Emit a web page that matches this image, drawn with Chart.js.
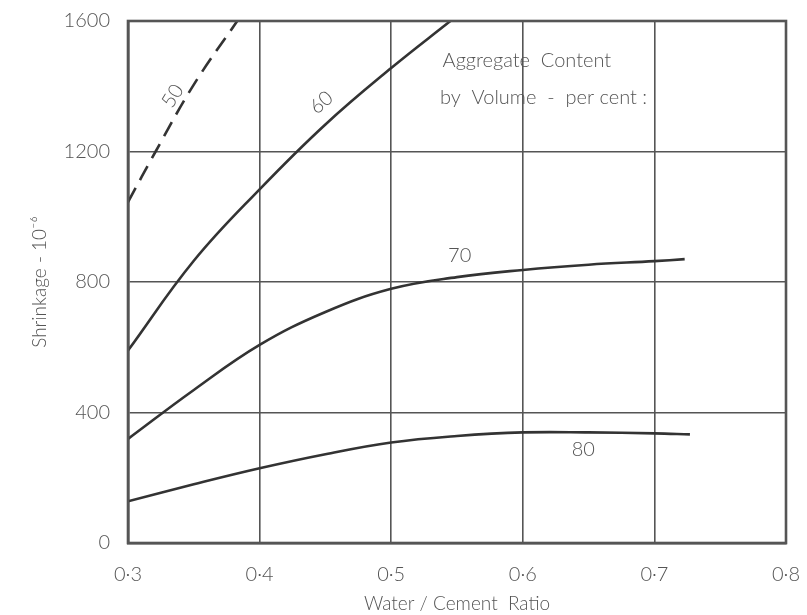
<!DOCTYPE html>
<html>
<head>
<meta charset="utf-8">
<script src="https://cdn.jsdelivr.net/npm/chart.js@4/dist/chart.umd.min.js"></script>
<style>
  html, body { margin: 0; padding: 0; background: #fff; }
  #wrap { width: 807px; height: 615px; }
</style>
</head>
<body>
<div id="wrap"><canvas id="grafico"></canvas></div>
<script>
// aggregate content by volume, per cent
const contenidos = ['50', '60', '70', '80'];

// water/cement ratio and shrinkage (10^-6)
const wc50 = [0.30, 0.321, 0.35, 0.383];
const sh50 = [1045, 1200, 1405, 1600];

const wc60 = [0.30, 0.35, 0.40, 0.45, 0.50, 0.545];
const sh60 = [590, 865, 1084, 1283, 1456, 1600];

const wc70 = [0.30, 0.35, 0.40, 0.45, 0.50, 0.55, 0.60, 0.65, 0.70, 0.723];
const sh70 = [319, 469, 607, 708, 779, 815, 837, 853, 864, 870];

const wc80 = [0.30, 0.35, 0.40, 0.45, 0.50, 0.55, 0.60, 0.65, 0.70, 0.727];
const sh80 = [128, 180, 229, 272, 308, 328, 339, 339, 336, 333];

const xTicks = ['0·3', '0·4', '0·5', '0·6', '0·7', '0·8'];
const yTicks = [0, 400, 800, 1200, 1600];

// curve labels: [text, ratio, shrinkage, angle in degrees]
const etiquetas = [
    ['50', 0.334, 1370, -58],
    ['60', 0.447, 1350, -40],
    ['70', 0.552, 880, 0],
    ['80', 0.646, 285, 0]
];

const gris = '#555';
const linea = '#333';
const fuente = 'Lato, "DejaVu Sans", sans-serif';

function puntos(xs, ys) {
    return xs.map((x, i) => ({ x: x, y: ys[i] }));
}

const series = [
    { label: contenidos[0], data: puntos(wc50, sh50), borderDash: [16, 9] },
    { label: contenidos[1], data: puntos(wc60, sh60) },
    { label: contenidos[2], data: puntos(wc70, sh70) },
    { label: contenidos[3], data: puntos(wc80, sh80) }
].map(s => Object.assign({
    showLine: true,
    borderColor: linea,
    borderWidth: 2.6,
    pointRadius: 0,
    tension: 0.4,
    fill: false
}, s));

const textos = {
    id: 'textos',
    afterDatasetsDraw(chart) {
        const ctx = chart.ctx;
        const xs = chart.scales.x;
        const ys = chart.scales.y;
        const a = chart.chartArea;
        ctx.save();
        // marco
        ctx.strokeStyle = gris;
        ctx.lineWidth = 2.6;
        ctx.strokeRect(a.left, a.top, a.right - a.left, a.bottom - a.top);
        ctx.fillStyle = gris;
        ctx.font = '300 20px ' + fuente;
        ctx.textAlign = 'center';
        ctx.textBaseline = 'middle';
        for (const [t, x, y, ang] of etiquetas) {
            ctx.save();
            ctx.translate(xs.getPixelForValue(x), ys.getPixelForValue(y));
            ctx.rotate(ang * Math.PI / 180);
            ctx.fillText(t, 0, 0);
            ctx.restore();
        }
        ctx.textAlign = 'left';
        ctx.fillText('Aggregate  Content', xs.getPixelForValue(0.539), ys.getPixelForValue(1480));
        ctx.fillText('by  Volume  -  per cent :', xs.getPixelForValue(0.537), ys.getPixelForValue(1366));
        ctx.restore();
    }
};

new Chart(document.getElementById('grafico').getContext('2d'), {
    type: 'scatter',
    data: { datasets: series },
    options: {
        responsive: true,
        maintainAspectRatio: false,
        animation: false,
        layout: { padding: { top: 21, right: 21, left: 0, bottom: 0 } },
        plugins: {
            legend: { display: false },
            tooltip: { enabled: false }
        },
        scales: {
            x: {
                type: 'linear',
                min: 0.3,
                max: 0.8,
                afterBuildTicks: s => { s.ticks = xTicks.map((t, i) => ({ value: 0.3 + i * 0.1 })); },
                afterFit: s => { s.height = 72; s.paddingLeft = 0; s.paddingRight = 0; },
                ticks: {
                    color: gris,
                    font: { family: fuente, size: 20, weight: '300' },
                    padding: 20,
                    maxRotation: 0,
                    callback: (v, i) => xTicks[i]
                },
                grid: { color: gris, lineWidth: 1.6, drawTicks: false },
                border: { color: gris, width: 2.6 },
                title: {
                    display: true,
                    text: 'Water / Cement  Ratio',
                    color: gris,
                    font: { family: fuente, size: 19, weight: '300' },
                    padding: { top: 0, bottom: 0 }
                }
            },
            y: {
                min: 0,
                max: 1600,
                afterBuildTicks: s => { s.ticks = yTicks.map(v => ({ value: v })); },
                afterFit: s => { s.width = 128; s.paddingTop = 0; s.paddingBottom = 0; },
                ticks: {
                    color: gris,
                    font: { family: fuente, size: 20, weight: '300' },
                    padding: 18,
                    callback: v => String(v)
                },
                grid: { color: gris, lineWidth: 1.6, drawTicks: false },
                border: { color: gris, width: 2.6 },
                title: {
                    display: true,
                    text: 'Shrinkage - 10⁻⁶',
                    color: gris,
                    font: { family: fuente, size: 19, weight: '300' },
                    padding: { top: 28, bottom: 0 }
                }
            }
        }
    },
    plugins: [textos]
});
</script>
</body>
</html>
